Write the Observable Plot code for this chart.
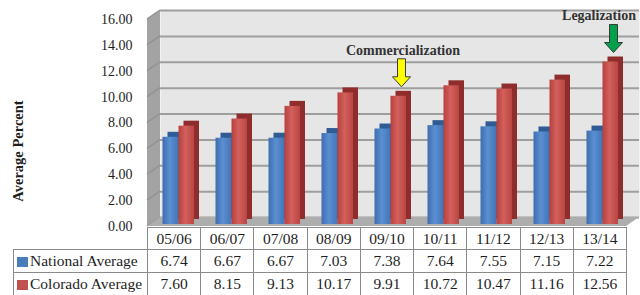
<!DOCTYPE html>
<html><head><meta charset="utf-8">
<script src="https://cdn.jsdelivr.net/npm/d3@7"></script>
<script src="https://cdn.jsdelivr.net/npm/@observablehq/plot@0.6"></script>
<style>
html,body{margin:0;padding:0;background:#fff;}
#wrap{position:relative;width:640px;height:295px;overflow:hidden;font-family:"Liberation Serif",serif;}
#chart svg{display:block;overflow:visible}
#ylab{position:absolute;left:18px;top:151px;width:0;height:0;}
#ylab span{position:absolute;left:0;top:0;transform:translate(-50%,-50%) rotate(-90deg);white-space:nowrap;font-weight:bold;font-size:14.5px;color:#1e1e1e}
#tbl{position:absolute;left:13px;top:227px;border-collapse:collapse;table-layout:fixed;font-size:15.5px;color:#1e1e1e;font-family:"Liberation Serif",serif}
#tbl td{border:1px solid #8a8a8a;text-align:center;padding:0;white-space:nowrap;overflow:visible}
#tbl tr.hdr td{height:21px}
#tbl tr.row td{height:22px}
#tbl td.leg{text-align:left;padding-left:3px}
#tbl td.blank{border-top:none;border-left:none}
.sw{display:inline-block;width:11px;height:10px;margin-right:2px;vertical-align:-1px}
</style></head>
<body><div id="wrap"><div id="chart"></div><div id="ylab"><span></span></div><table id="tbl"></table></div>
<script>
// ---- data ----
const years = ["05/06","06/07","07/08","08/09","09/10","10/11","11/12","12/13","13/14"];
const nationalAvg = [6.74,6.67,6.67,7.03,7.38,7.64,7.55,7.15,7.22];
const coloradoAvg = [7.60,8.15,9.13,10.17,9.91,10.72,10.47,11.16,12.56];
const seriesNames = ["National Average","Colorado Average"];
const seriesColors = ["#4a7ebb","#c0504d"];
const yTicks = [0,2,4,6,8,10,12,14,16];
const yLabel = "Average Percent";
const annotYears = ["09/10","13/14"];
const annotLabels = ["Commercialization","Legalization"];
const annotColors = ["#ffff00","#00a04a"];

// ---- build ----
const rows = years.map((y,i)=>({year:y, national:nationalAvg[i], colorado:coloradoAvg[i]}));
const annots = annotYears.map((y,i)=>({year:y, value:coloradoAvg[years.indexOf(y)], label:annotLabels[i], color:annotColors[i]}));
const depthX = 13, depthY = -9;
const W = 640, H = 228, mL = 147, mR = 14;

function walls(index, scales, values, dims) {
  const {y} = scales;
  const x0 = dims.marginLeft, x1 = dims.width - dims.marginRight;
  const y0 = y(0), yT = y(d3.max(yTicks));
  const g = d3.create("svg:g");
  g.append("path")
    .attr("d", `M${x0},${y0}L${x0},${yT}L${x0+depthX},${yT+depthY}L${x0+depthX},${y0+depthY}Z`)
    .attr("fill", "#a3a3a3");
  for (const t of yTicks) {
    g.append("line").attr("x1", x0).attr("y1", y(t)).attr("x2", x0+depthX).attr("y2", y(t)+depthY)
      .attr("stroke", "#929292").attr("stroke-width", 1.5);
  }
  g.append("path")
    .attr("d", `M${x0},${y0}L${x0+depthX},${y0+depthY}L${x1+depthX},${y0+depthY}L${x1},${y0}Z`)
    .attr("fill", "#adadad");
  return g.node();
}

function arrows(index, scales) {
  const {x, y} = scales;
  const bw = x.bandwidth ? x.bandwidth() : (W-mL-mR)/years.length;
  const g = d3.create("svg:g");
  for (const a of annots) {
    const cx = x(a.year) + bw/2 + 15;
    const tip = y(a.value) - 11, top = y(a.value) - 39;
    const hl = 10, hw = 9, sw = 4;
    g.append("path")
      .attr("d", `M${cx-sw},${top}L${cx+sw},${top}L${cx+sw},${tip-hl}L${cx+hw},${tip-hl}L${cx},${tip}L${cx-hw},${tip-hl}L${cx-sw},${tip-hl}Z`)
      .attr("fill", a.color).attr("stroke", "#3a3a3a").attr("stroke-width", 1);
  }
  return g.node();
}

const barSpecs = [
  {key:"national", insetLeft:14.5, insetRight:22.5, face:"url(#gBlue)", side:"#2f5c94"},
  {key:"colorado", insetLeft:30.5, insetRight:7, face:"url(#gRed)", side:"#8e2d2b"}
];
const barMarks = barSpecs.flatMap(s => [
  Plot.barY(rows, {x:"year", y:s.key, insetLeft:s.insetLeft, insetRight:s.insetRight, fill:s.side, dx:5, dy:-7}),
  Plot.barY(rows, {x:"year", y:s.key, insetLeft:s.insetLeft, insetRight:s.insetRight, fill:s.face, dy:-2})
]);

const chart = Plot.plot({
  width: W, height: H,
  marginLeft: mL, marginRight: mR, marginTop: 19, marginBottom: 2,
  style: {fontFamily: '"Liberation Serif", serif', fontSize: "14px", color: "#1e1e1e", background: "transparent", overflow: "visible"},
  x: {domain: years, padding: 0, axis: null},
  y: {domain: [0, d3.max(yTicks)], ticks: yTicks, tickFormat: d => d.toFixed(2), tickSize: 0, tickPadding: 15, label: null},
  marks: [
    Plot.frame({fill: "#e6e6e6", dx: depthX, dy: depthY}),
    Plot.ruleY(yTicks, {stroke: "#9e9e9e", strokeWidth: 2, dx: depthX, dy: depthY}),
    walls,
    ...barMarks,
    arrows,
    ...annots.map((a,i) => Plot.text([a], {x:"year", y:"value", text:"label", dy:-48, dx: i === annots.length-1 ? 0 : 16,
      fontWeight:"bold", fontSize:14, fill:"#333"}))
  ]
});

const defs = d3.select(chart).insert("defs", ":first-child");
function grad(id, c0, c1, c2) {
  const lg = defs.append("linearGradient").attr("id", id).attr("x1","0").attr("x2","1").attr("y1","0").attr("y2","0");
  lg.append("stop").attr("offset","0%").attr("stop-color",c0);
  lg.append("stop").attr("offset","45%").attr("stop-color",c1);
  lg.append("stop").attr("offset","100%").attr("stop-color",c2);
}
grad("gBlue", "#3d6eae", "#5a8fd2", "#4275b6");
grad("gRed", "#b7403d", "#d2605c", "#ba4643");
document.getElementById("chart").appendChild(chart);
d3.select("#ylab span").text(yLabel);

// ---- data table ----
const colW = (W - mL - mR) / years.length;
const tbl = d3.select("#tbl").style("width", (mL - 13 + colW*years.length) + "px");
const cg = tbl.append("colgroup");
cg.append("col").style("width", (mL - 13) + "px");
years.forEach(() => cg.append("col").style("width", colW + "px"));
const hdr = tbl.append("tr").attr("class","hdr");
hdr.append("td").attr("class","blank");
years.forEach(y => hdr.append("td").text(y));
[nationalAvg, coloradoAvg].forEach((vals, si) => {
  const tr = tbl.append("tr").attr("class","row");
  const lc = tr.append("td").attr("class","leg");
  lc.append("span").attr("class","sw").style("background", seriesColors[si]);
  lc.append("span").text(seriesNames[si]);
  vals.forEach(v => tr.append("td").text(v.toFixed(2)));
});
</script>
</body></html>
